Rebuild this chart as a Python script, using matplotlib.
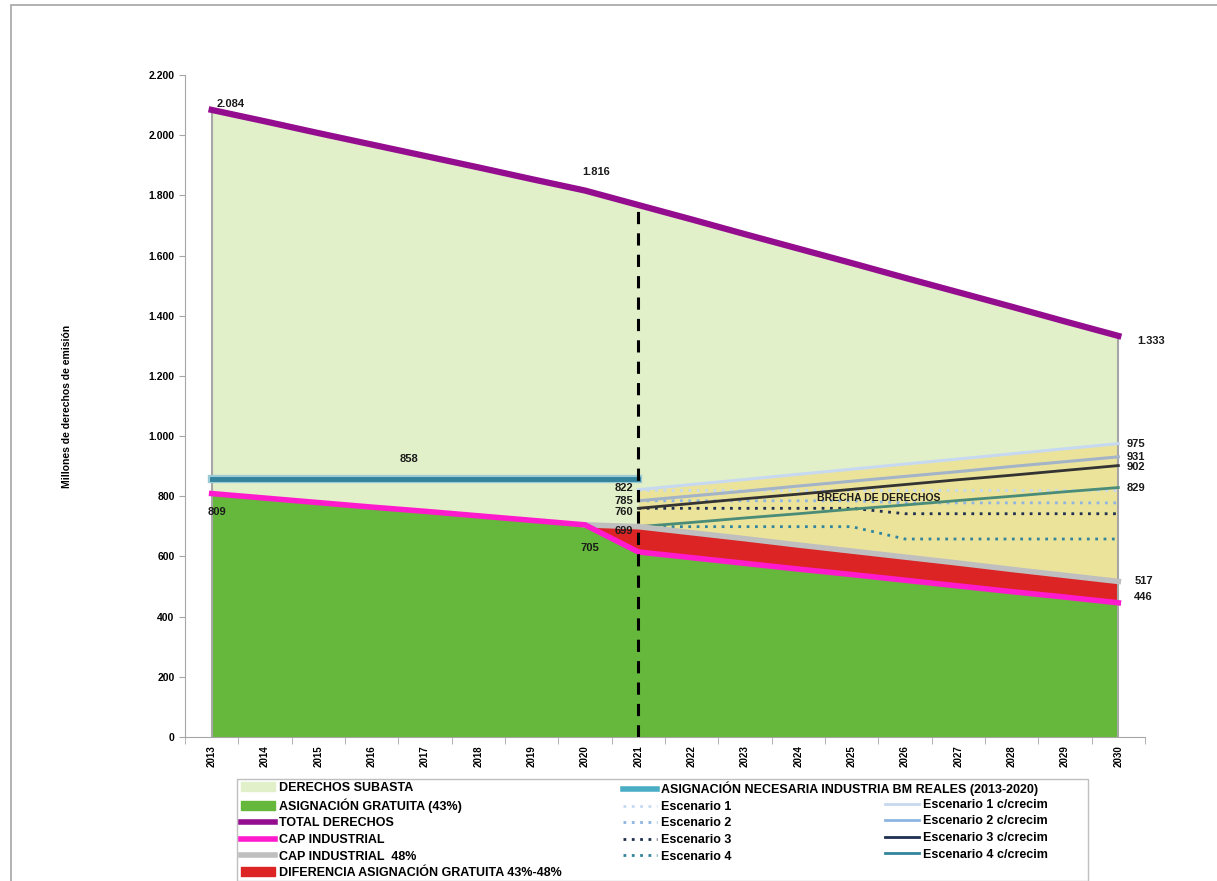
import matplotlib
import matplotlib.pyplot as plt
import numpy as np
from matplotlib.lines import Line2D
from matplotlib.patches import Patch, Rectangle
from matplotlib.ticker import FuncFormatter

matplotlib.use("Agg")

plt.rcParams["font.family"] = ["Liberation Sans", "DejaVu Sans"]

# Datos (millones de derechos de emisión)
years = list(range(2013, 2031))
years_fut = list(range(2021, 2031))
years_cap48 = list(range(2020, 2031))

total_derechos = [2084, 2046, 2007, 1969, 1931, 1893, 1854, 1816,
                  1768, 1720, 1671, 1623, 1575, 1526, 1478, 1430, 1381, 1333]
cap_industrial = [809, 794, 779, 764, 750, 735, 720, 705,
                  615, 596, 577, 558, 540, 521, 502, 483, 465, 446]
cap_industrial_48 = [705, 699, 679, 659, 638, 618, 598, 578, 557, 537, 517]
years_bm = list(range(2013, 2022))
asignacion_necesaria = [858] * 9

esc1 = [822, 822, 822, 822, 822, 822, 822, 822, 822, 822]
esc2 = [785, 785, 785, 785, 785, 778, 778, 778, 778, 778]
esc3 = [760, 760, 760, 760, 760, 742, 742, 742, 742, 742]
esc4 = [699, 699, 699, 699, 699, 658, 658, 658, 658, 658]
esc1_crec = [822, 839, 856, 873, 890, 907, 924, 941, 958, 975]
esc2_crec = [785, 801, 817, 834, 850, 866, 882, 899, 915, 931]
esc3_crec = [760, 776, 792, 807, 823, 839, 855, 870, 886, 902]
esc4_crec = [699, 713, 728, 742, 757, 771, 786, 800, 815, 829]

c_subasta = "#E2F0C9"
c_gratuita = "#65B83B"
c_total = "#930D8E"
c_cap = "#FF1ACD"
c_cap48 = "#BFBFBF"
c_dif = "#DC2424"
c_brecha = "#ECE39B"
c_bm = "#31849B"
c_e1, c_e2, c_e3, c_e4 = "#C6D9F1", "#8DB4E2", "#1F2F4F", "#31859C"
c_e1c, c_e2c, c_e3c, c_e4c = "#C6D9F1", "#A3B3C8", "#333333", "#4A8C78"

fig = plt.figure(figsize=(12.17, 8.81), dpi=100)
ax = fig.add_axes([185 / 1217, 1 - 737 / 881, (1145 - 185) / 1217, (737 - 75) / 881])

# áreas
ax.fill_between(years, 0, total_derechos, color=c_subasta, lw=0, zorder=1)
ax.fill_between(years, 0, cap_industrial, color=c_gratuita, lw=0, zorder=2)
cap_sub = cap_industrial[7:]
ax.fill_between(years_cap48, cap_sub, cap_industrial_48, color=c_dif, lw=0, zorder=2)
ax.fill_between(years_fut, cap_industrial_48[1:], esc1_crec, color=c_brecha, lw=0, zorder=2)

# bordes verticales de las áreas
ax.plot([2013, 2013], [0, total_derechos[0]], color="#A6A6A6", lw=1.5, zorder=3)
ax.plot([2030, 2030], [0, total_derechos[-1]], color="#A6A6A6", lw=1.5, zorder=3)

# escenarios
ax.plot(years_fut, esc1, color=c_e1, lw=2, ls=(0, (1, 2)), zorder=4)
ax.plot(years_fut, esc2, color=c_e2, lw=2, ls=(0, (1, 2)), zorder=4)
ax.plot(years_fut, esc3, color=c_e3, lw=2, ls=(0, (1, 2)), zorder=4)
ax.plot(years_fut, esc4, color=c_e4, lw=2, ls=(0, (1, 2)), zorder=4)
ax.plot(years_fut, esc1_crec, color=c_e1c, lw=2.2, zorder=4)
ax.plot(years_fut, esc2_crec, color=c_e2c, lw=2.2, zorder=4)
ax.plot(years_fut, esc3_crec, color=c_e3c, lw=2, zorder=4)
ax.plot(years_fut, esc4_crec, color=c_e4c, lw=2, zorder=4)

# líneas principales
ax.plot(years_cap48, cap_industrial_48, color=c_cap48, lw=4, zorder=5)
ax.plot(years, cap_industrial, color=c_cap, lw=4, zorder=5)
ax.plot(years, total_derechos, color=c_total, lw=4.5, zorder=5)
ax.plot(years_bm, asignacion_necesaria, color="#9CC9D6", lw=6, zorder=5)
ax.plot(years_bm, asignacion_necesaria, color=c_bm, lw=3.5, zorder=5)

# línea discontinua 2021
ax.plot([2021, 2021], [0, total_derechos[8]], color="black", lw=2.2,
        ls=(0, (4, 3)), zorder=6)

ax.set_xlim(2012.5, 2030.5)
ax.set_ylim(0, 2200)
ax.set_yticks(np.arange(0, 2201, 200))
ax.yaxis.set_major_formatter(FuncFormatter(lambda v, p: f"{int(v):,}".replace(",", ".")))
ax.set_xticks(years)
ax.set_xticklabels([str(y) for y in years], rotation=90)
ax.set_xticks(np.arange(2012.5, 2031, 1), minor=True)
ax.tick_params(axis="x", which="major", length=0, pad=6, labelsize=7)
ax.tick_params(axis="x", which="minor", length=5, color="#A6A6A6", direction="out")
ax.tick_params(axis="y", length=4, color="#A6A6A6", labelsize=7.5)
for lab in ax.get_xticklabels() + ax.get_yticklabels():
    lab.set_fontweight("bold")
for s in ["top", "right"]:
    ax.spines[s].set_visible(False)
ax.spines["left"].set_color("#A6A6A6")
ax.spines["bottom"].set_color("#A6A6A6")

ax.set_ylabel("Millones de derechos de emisión", fontsize=7.5, fontweight="bold",
              labelpad=55)

# etiquetas de datos
lbl = dict(fontsize=8, fontweight="bold", color="#1A1A1A", zorder=7)
ax.text(2013.1, 2084 + 2, "2.084", ha="left", va="bottom", **lbl)
ax.text(2020.2, 1816 + 45, "1.816", ha="center", va="bottom", **lbl)
ax.text(2030.35, 1316, "1.333", ha="left", va="center", **lbl)
ax.text(2016.7, 925, "858", ha="center", va="center", **lbl)
ax.text(2013.1, 747, "809", ha="center", va="center", **lbl)
ax.text(2020.1, 628, "705", ha="center", va="center", **lbl)
ax.text(2020.9, 827, "822", ha="right", va="center", **lbl)
ax.text(2020.9, 784, "785", ha="right", va="center", **lbl)
ax.text(2020.9, 748, "760", ha="right", va="center", **lbl)
ax.text(2020.9, 684, "699", ha="right", va="center", **lbl)
ax.text(2030.15, 973, "975", ha="left", va="center", **lbl)
ax.text(2030.15, 930, "931", ha="left", va="center", **lbl)
ax.text(2030.15, 897, "902", ha="left", va="center", **lbl)
ax.text(2030.15, 827, "829", ha="left", va="center", **lbl)
ax.text(2030.3, 518, "517", ha="left", va="center", **lbl)
ax.text(2030.3, 465, "446", ha="left", va="center", **lbl)
ax.text(2024.35, 793, "BRECHA DE DERECHOS", ha="left", va="center",
        fontsize=7.5, fontweight="bold", color="#1A1A1A", zorder=7)

# leyenda
leg_kw = dict(frameon=False, handlelength=2.7, handletextpad=0.35,
              labelspacing=0.36, borderaxespad=0, borderpad=0,
              prop=dict(weight="bold", size=9))
h1 = [Patch(color=c_subasta), Patch(color=c_gratuita),
      Line2D([], [], color=c_total, lw=4), Line2D([], [], color=c_cap, lw=4),
      Line2D([], [], color=c_cap48, lw=4), Patch(color=c_dif)]
l1 = ["DERECHOS SUBASTA", "ASIGNACIÓN GRATUITA (43%)", "TOTAL DERECHOS",
      "CAP INDUSTRIAL", "CAP INDUSTRIAL  48%", "DIFERENCIA ASIGNACIÓN GRATUITA 43%-48%"]
fig.legend(h1, l1, loc="upper left", bbox_to_anchor=(241 / 1217, 1 - 782 / 881), **leg_kw)

h2 = [Line2D([], [], color="#4BACC6", lw=4),
      Line2D([], [], color=c_e1, lw=2, ls=(0, (1, 2))),
      Line2D([], [], color=c_e2, lw=2, ls=(0, (1, 2))),
      Line2D([], [], color=c_e3, lw=2, ls=(0, (1, 2))),
      Line2D([], [], color=c_e4, lw=2, ls=(0, (1, 2)))]
l2 = ["ASIGNACIÓN NECESARIA INDUSTRIA BM REALES (2013-2020)",
      "Escenario 1", "Escenario 2", "Escenario 3", "Escenario 4"]
fig.legend(h2, l2, loc="upper left", bbox_to_anchor=(623 / 1217, 1 - 782 / 881), **leg_kw)

h3 = [Line2D([], [], color=c_e1, lw=2), Line2D([], [], color=c_e2, lw=2),
      Line2D([], [], color="#1F2F4F", lw=2), Line2D([], [], color="#31859C", lw=2)]
l3 = ["Escenario 1 c/crecim", "Escenario 2 c/crecim",
      "Escenario 3 c/crecim", "Escenario 4 c/crecim"]
fig.legend(h3, l3, loc="upper left", bbox_to_anchor=(885 / 1217, 1 - 799 / 881), **leg_kw)

# marcos
fig.add_artist(Rectangle((237 / 1217, 0), (1088 - 237) / 1217, (881 - 779) / 881,
                         transform=fig.transFigure, fill=False, ec="#BFBFBF", lw=1))
fig.add_artist(Rectangle((11 / 1217, -0.01), 1.0, 1 - 5 / 881 + 0.01,
                         transform=fig.transFigure, fill=False, ec="#A6A6A6", lw=1.2))

fig.savefig("out.png", dpi=100)
